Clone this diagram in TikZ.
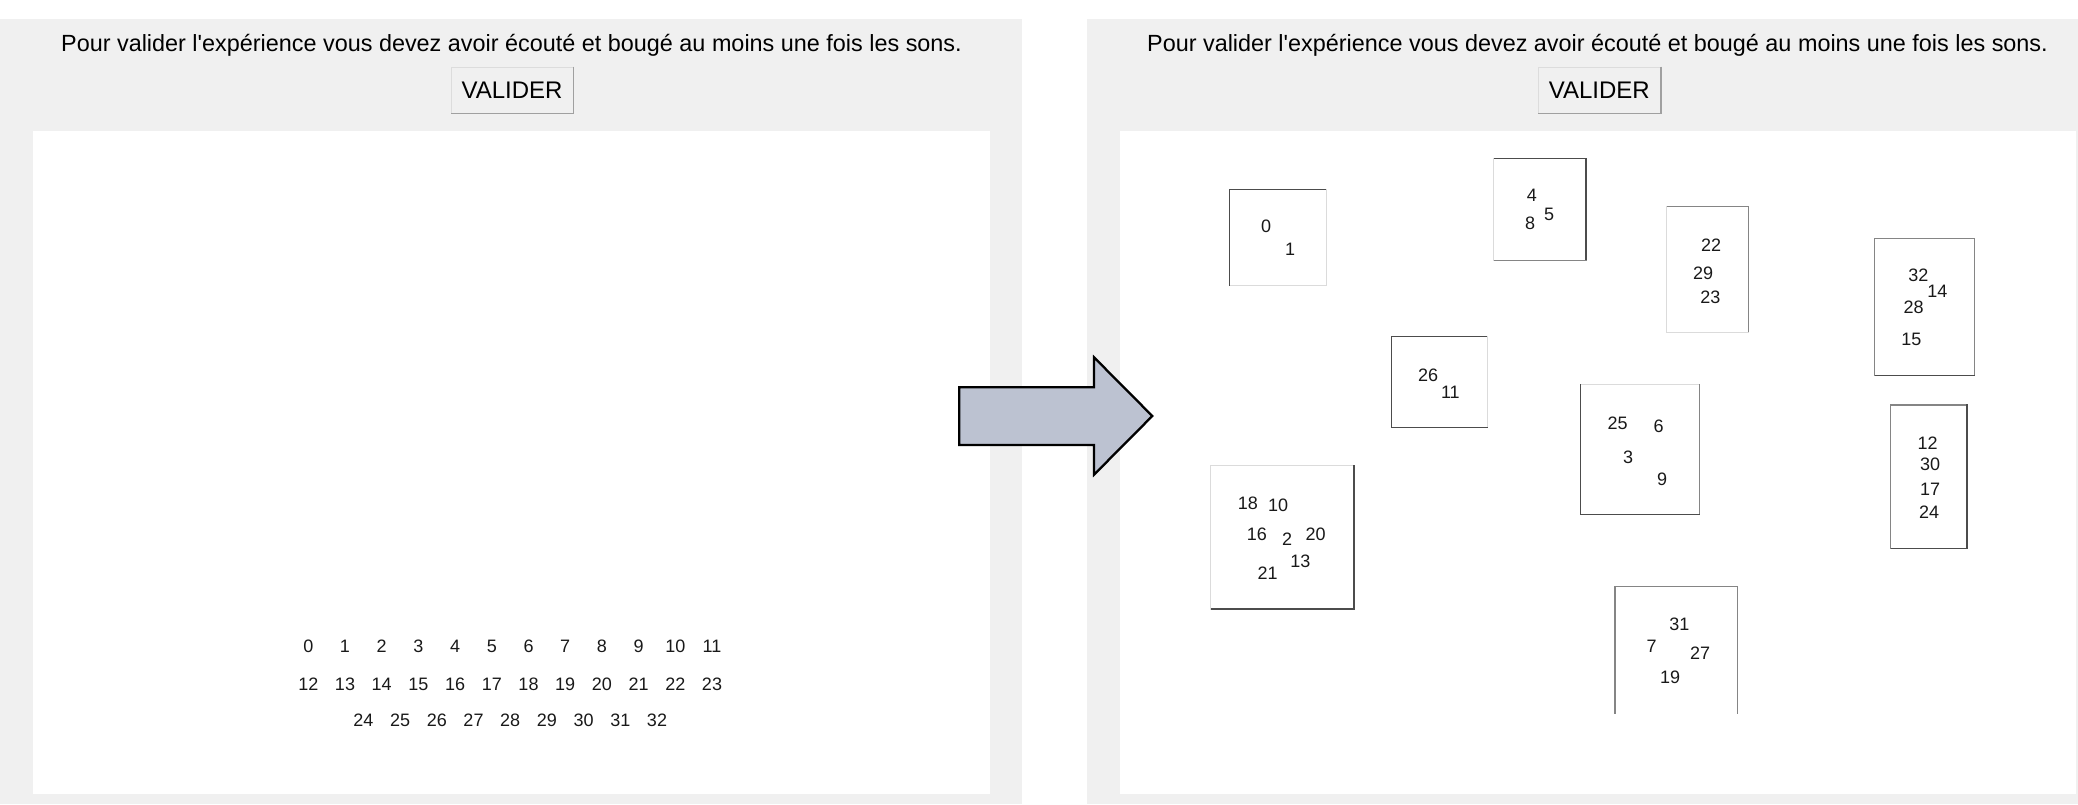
\documentclass[tikz,border=0pt]{standalone}
\usepackage{fontspec}
\setmainfont{Liberation Sans}
\definecolor{panel}{HTML}{F0F0F0}
\definecolor{arrowfill}{HTML}{BCC2D1}
\definecolor{btnshadow}{HTML}{A0A0A0}
\definecolor{btnedge}{HTML}{DCDCDC}
\newcommand\gbx[8]{%
  \draw[bx,#5] (#1,#2) -- (#3,#2);
  \draw[bx,#6] (#3,#2) -- (#3,#4);
  \draw[bx,#7] (#1,#4) -- (#3,#4);
  \draw[bx,#8] (#1,#2) -- (#1,#4);}
\tikzset{
  msg/.style={anchor=base, inner sep=0pt, font=\fontsize{23.4}{28}\selectfont, text=black},
  btn/.style={fill=panel, draw=btnedge, line width=1pt, minimum width=122pt, minimum height=46pt,
              inner sep=0pt, font=\fontsize{24}{28}\selectfont, text=black},
  num/.style={anchor=base, inner sep=0pt, font=\fontsize{18}{21}\selectfont, text=black!90},
  bx/.style={line width=1.3pt, line cap=rect},
  bdk/.style={draw=black!70},
  bmd/.style={draw=black!48},
  blt/.style={draw=black!14},
  bno/.style={draw=none},
  bigarrow/.style={fill=arrowfill, draw=black, line width=2.3pt, line join=miter}
}
\begin{document}
\begin{tikzpicture}[x=1pt,y=-1pt]
\useasboundingbox (0,0) rectangle (2078,804);
\fill[white] (0,0) rectangle (2078,804);
% panels
\fill[panel] (0,19) rectangle (1022,804);
\fill[white] (33,131) rectangle (990,794);
\fill[panel] (1087,19) rectangle (2078,804);
\fill[white] (1120,131) rectangle (2076,794);
% headers
\node[msg] (msgL) at (511.5,51.5) {Pour valider l\textquotesingle expérience vous devez avoir écouté et bougé au moins une fois les sons.};
\node[msg] (msgR) at (1597.5,51.5) {Pour valider l\textquotesingle expérience vous devez avoir écouté et bougé au moins une fois les sons.};
\node[btn] (btnL) at (512,90) {VALIDER};
\draw[btnshadow, line width=1.5pt] (btnL.north east) -- (btnL.south east) -- (btnL.south west);
\node[btn] (btnR) at (1599.3,90) {VALIDER};
\draw[btnshadow, line width=1.5pt] (btnR.north east) -- (btnR.south east) -- (btnR.south west);
% left panel numbers
\foreach \i in {0,...,11} \node[num] (L\i) at ({308.3+36.7*\i},652.3) {\i};
\foreach \i in {12,...,23} \node[num] (L\i) at ({308.3+36.7*(\i-12)},690) {\i};
\foreach \i in {24,...,32} \node[num] (L\i) at ({363.4+36.7*(\i-24)},726.7) {\i};
% arrow
\draw[bigarrow] (959.3,387.3) -- (1094,387.3) -- (1094,357.3) -- (1152.3,416) -- (1094,474.7) -- (1094,445) -- (959.3,445) -- cycle;
% right panel boxes
\gbx{1229.3}{189.3}{1326.7}{285.7}{bdk}{blt}{blt}{bdk}
\gbx{1493.6}{158.3}{1586}{260.7}{bdk}{bdk}{bmd}{blt}
\gbx{1666.4}{206.7}{1748.3}{332.7}{bmd}{bmd}{blt}{blt}
\gbx{1874.3}{238.3}{1974.3}{375.3}{bmd}{bmd}{bdk}{bmd}
\gbx{1890.3}{405}{1967}{548.7}{bmd}{bdk}{bdk}{bmd}
\gbx{1391.8}{336.7}{1487.5}{427.7}{bdk}{blt}{bdk}{bdk}
\gbx{1580.7}{384.3}{1699.6}{514.3}{blt}{bmd}{bdk}{bdk}
\gbx{1210.4}{465.7}{1353.9}{609}{blt}{bdk}{bdk}{blt}
\gbx{1615}{586.7}{1737.7}{713.3}{bmd}{bmd}{bno}{bmd}
% right panel numbers
\node[num] (R0) at (1266,232.7) {0};
\node[num] (R1) at (1290,255.3) {1};
\node[num] (R4) at (1531.8,201.7) {4};
\node[num] (R8) at (1530,229.3) {8};
\node[num] (R5) at (1549,220) {5};
\node[num] (R22) at (1711,251) {22};
\node[num] (R29) at (1703.2,279.7) {29};
\node[num] (R23) at (1710.4,303.7) {23};
\node[num] (R32) at (1918.3,281.7) {32};
\node[num] (R14) at (1937.3,297.7) {14};
\node[num] (R28) at (1913.7,313.3) {28};
\node[num] (R15) at (1911.3,345.7) {15};
\node[num] (R12) at (1927.7,449) {12};
\node[num] (R30) at (1930,470) {30};
\node[num] (R17) at (1930,495) {17};
\node[num] (R24) at (1929,518.3) {24};
\node[num] (R26) at (1428.2,381) {26};
\node[num] (R11) at (1450.4,398.3) {11};
\node[num] (R25) at (1617.5,429) {25};
\node[num] (R6) at (1658.6,432.7) {6};
\node[num] (R3) at (1628.2,463.3) {3};
\node[num] (R9) at (1662.1,485) {9};
\node[num] (R18) at (1247.9,509.3) {18};
\node[num] (R10) at (1278.2,511) {10};
\node[num] (R16) at (1256.8,540.7) {16};
\node[num] (R2) at (1287.1,545) {2};
\node[num] (R20) at (1315.7,540.7) {20};
\node[num] (R13) at (1300.4,567.3) {13};
\node[num] (R21) at (1267.5,579) {21};
\node[num] (R31) at (1679.3,630.7) {31};
\node[num] (R7) at (1651.7,652.7) {7};
\node[num] (R27) at (1700,659) {27};
\node[num] (R19) at (1670,683.3) {19};
\end{tikzpicture}
\end{document}
